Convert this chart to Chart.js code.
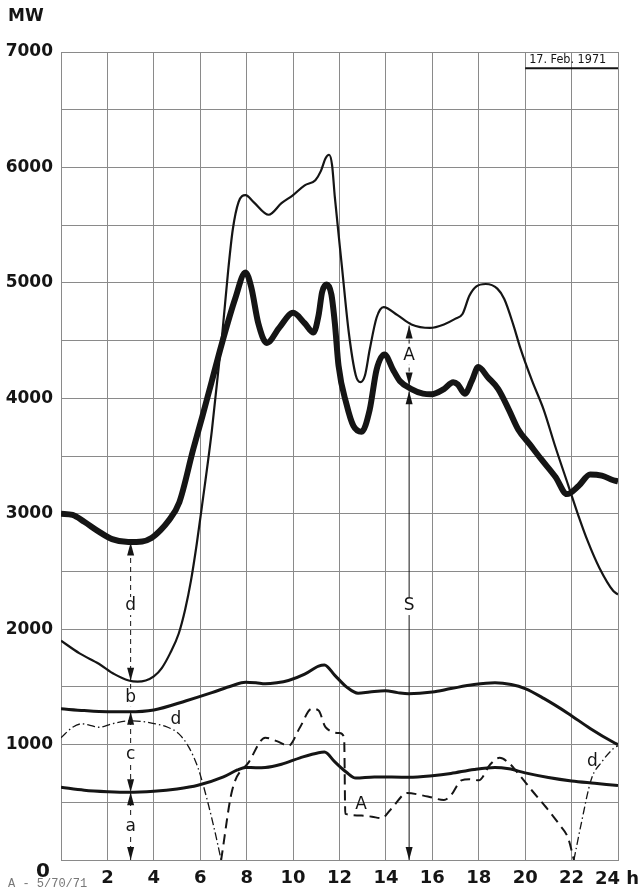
<!DOCTYPE html>
<html>
<head>
<meta charset="utf-8">
<script src="https://cdn.jsdelivr.net/npm/chart.js@4.4.1/dist/chart.umd.min.js"></script>
<style>
  html, body { margin: 0; padding: 0; background: #fff; }
  #wrap { position: relative; width: 640px; height: 894px; }
</style>
</head>
<body>
<div id="wrap"><canvas id="loadChart"></canvas></div>
<script>
// ---- data (hours, MW) ----
const hourTicks = [0, 2, 4, 6, 8, 10, 12, 14, 16, 18, 20, 22, 24];

// S: heavy curve
const curveS = [[0,3000],[0.5,2990],[1,2930],[1.63,2845],[2.2,2780],[2.9,2755],[3.5,2760],[3.9,2790],[4.3,2860],[4.6,2930],[5.1,3100],[5.7,3560],[6.1,3850],[6.5,4150],[6.94,4480],[7.5,4860],[7.95,5090],[8.2,4960],[8.5,4650],[8.87,4480],[9.4,4610],[10.0,4740],[10.5,4650],[10.88,4570],[11.1,4720],[11.25,4920],[11.45,4985],[11.65,4900],[11.8,4650],[11.96,4280],[12.3,3950],[12.6,3760],[12.95,3710],[13.3,3900],[13.6,4250],[13.94,4380],[14.3,4250],[14.6,4150],[15.1,4080],[15.6,4040],[15.96,4035],[16.5,4080],[16.9,4140],[17.1,4120],[17.4,4040],[17.7,4150],[17.98,4270],[18.4,4180],[18.84,4080],[19.3,3900],[19.7,3730],[20.2,3600],[20.7,3470],[21.3,3320],[21.8,3170],[22.3,3240],[22.8,3340],[23.3,3330],[23.8,3290],[24,3280]];

// thin upper curve
const curveThin = [[0,1900],[0.8,1790],[1.63,1700],[2.3,1610],[2.92,1555],[3.3,1545],[3.65,1555],[4.0,1590],[4.35,1665],[4.7,1790],[5.07,1960],[5.35,2170],[5.6,2420],[5.85,2740],[6.07,3060],[6.5,3720],[6.94,4540],[7.2,5100],[7.4,5460],[7.65,5700],[7.95,5760],[8.3,5700],[8.95,5590],[9.5,5690],[10.0,5760],[10.5,5845],[10.96,5890],[11.2,5970],[11.4,6080],[11.55,6110],[11.68,6020],[11.8,5740],[12.1,5150],[12.4,4570],[12.7,4200],[12.9,4140],[13.1,4200],[13.3,4420],[13.6,4700],[13.9,4790],[14.5,4720],[15.1,4640],[15.9,4610],[16.5,4640],[17.0,4690],[17.3,4730],[17.6,4890],[17.9,4970],[18.3,4990],[18.8,4950],[19.1,4860],[19.5,4630],[19.8,4430],[20.3,4150],[20.8,3900],[21.3,3580],[21.85,3250],[22.3,2980],[22.7,2760],[23.2,2530],[23.8,2330],[24,2300]];

// b: medium curve
const curveB = [[0,1310],[1,1295],[2,1285],[2.9,1284],[4,1300],[5.4,1380],[6.5,1450],[7.37,1510],[7.95,1540],[8.4,1535],[8.8,1526],[9.3,1535],[9.8,1555],[10.5,1610],[11.1,1680],[11.35,1690],[11.8,1600],[12.3,1500],[12.8,1445],[13.3,1455],[13.97,1466],[14.5,1450],[14.97,1440],[16,1455],[16.8,1485],[17.8,1520],[18.7,1535],[19.4,1520],[20,1485],[20.8,1400],[21.85,1270],[22.8,1140],[23.8,1020],[24,1000]];

// a: lower medium curve
const curveA = [[0,630],[1,605],[2,592],[2.9,586],[4,595],[5,615],[5.9,647],[7,720],[7.6,780],[7.95,802],[8.4,800],[8.8,802],[9.5,830],[10.3,885],[11.1,930],[11.35,935],[11.8,850],[12.3,760],[12.7,710],[13.5,720],[15,716],[16,730],[16.8,750],[17.8,785],[18.7,802],[19.3,790],[20,755],[21,715],[22,685],[23,665],[24,645]];

// d: dash-dot curve (two pieces)
const curveD = [[0,1060],[0.5,1150],[0.9,1180],[1.3,1165],[1.63,1150],[2.2,1180],[2.9,1205],[3.5,1200],[4.07,1180],[4.6,1150],[5.07,1095],[5.5,980],[5.9,800],[6.3,520],[6.65,230],[6.9,0],[12,null],[22.1,0],[22.4,300],[22.85,700],[23.3,850],[23.8,965],[24,990]];

// A: dashed curve
const curveDashA = [[6.9,0],[7.37,600],[8.1,850],[8.8,1060],[9.3,1030],[9.8,990],[10.3,1150],[10.8,1310],[11.1,1295],[11.4,1150],[12.0,1100],[12.2,1060],[12.25,400],[12.95,385],[13.4,375],[13.8,362],[14.3,460],[14.9,580],[15.8,550],[16.5,520],[16.8,560],[17.25,690],[17.6,700],[18,690],[18.5,830],[18.9,885],[19.3,840],[19.7,750],[20.3,600],[20.9,457],[21.5,300],[21.85,190],[22.1,0]];

// arrow tips on the marker stems: hour, MW, direction
const arrowTips = [
  [3, 0, "down"], [3, 586, "up"], [3, 586, "down"], [3, 1284, "up"],
  [3, 1552, "down"], [3, 2750, "up"],
  [15, 0, "down"], [15, 4060, "up"], [15, 4110, "down"], [15, 4630, "up"]
];
// letters along the stems and next to the curves
const stemLabels = [[3,290,"a"],[3,910,"c"],[3,1405,"b"],[3,2200,"d"],[15,2200,"S"],[15,4370,"A"]];
const curveLabels = [[4.95,1215,"d"],[22.9,850,"d"],[12.93,480,"A"]];
const dateText = "17. Feb. 1971";

const toXY = arr => arr.map(p => ({ x: p[0], y: p[1] }));
const INK = "#151515";

const annotate = {
  id: "annotate",
  afterDatasetsDraw(chart) {
    const ctx = chart.ctx;
    const xs = chart.scales.x, ys = chart.scales.y;
    const X = h => xs.getPixelForValue(h);
    const Y = v => ys.getPixelForValue(v);
    ctx.save();

    // stem at 3 h (dashed)
    ctx.strokeStyle = INK;
    ctx.lineWidth = 1;
    ctx.setLineDash([5, 4]);
    ctx.beginPath();
    ctx.moveTo(X(3), Y(0)); ctx.lineTo(X(3), Y(2750));
    ctx.stroke();
    // stem at 15 h, S part solid, A part dashed
    ctx.setLineDash([]);
    ctx.beginPath();
    ctx.moveTo(X(15), Y(0)); ctx.lineTo(X(15), Y(4060));
    ctx.stroke();
    ctx.setLineDash([4, 3]);
    ctx.beginPath();
    ctx.moveTo(X(15), Y(4110)); ctx.lineTo(X(15), Y(4630));
    ctx.stroke();
    ctx.setLineDash([]);

    // arrow heads
    ctx.fillStyle = INK;
    arrowTips.forEach(a => {
      const x = X(a[0]), y = Y(a[1]);
      const s = a[2] === "up" ? 1 : -1;
      ctx.beginPath();
      ctx.moveTo(x, y);
      ctx.lineTo(x - 3.5, y + s * 13);
      ctx.lineTo(x + 3.5, y + s * 13);
      ctx.closePath();
      ctx.fill();
    });

    ctx.font = "17px 'DejaVu Sans'";
    ctx.textAlign = "center";
    ctx.textBaseline = "middle";
    stemLabels.forEach(l => {
      const x = X(l[0]), y = Y(l[1]);
      ctx.fillStyle = "#fff";
      ctx.fillRect(x - 7, y - 9, 14, 18);
      ctx.fillStyle = INK;
      ctx.fillText(l[2], x, y);
    });
    curveLabels.forEach(l => {
      ctx.fillText(l[2], X(l[0]), Y(l[1]));
    });

    // date box in the top right cell
    ctx.lineWidth = 2;
    ctx.beginPath();
    ctx.moveTo(X(20), Y(6860)); ctx.lineTo(X(24), Y(6860));
    ctx.stroke();
    ctx.font = "12.5px 'DejaVu Sans Condensed'";
    ctx.textAlign = "left";
    ctx.fillText(dateText, X(20) + 4, Y(6930));

    // unit, zero, last hour label and drawing number
    ctx.font = "bold 17px 'DejaVu Sans'";
    ctx.fillText("MW", 8, 17);
    ctx.font = "bold 20px 'DejaVu Sans'";
    ctx.textAlign = "center";
    ctx.fillText("0", 43, Y(0) + 12);
    ctx.font = "bold 18px 'DejaVu Sans'";
    ctx.fillText("24 h", X(24) - 1, Y(0) + 19);
    ctx.font = "12px 'Liberation Mono'";
    ctx.fillStyle = "#777";
    ctx.textAlign = "left";
    ctx.fillText("A - 5/70/71", 8, 884);
    ctx.restore();
  }
};

const lineSet = (data, width, dash) => ({
  data: toXY(data),
  borderColor: INK,
  borderWidth: width,
  borderDash: dash || [],
  pointRadius: 0,
  fill: false,
  cubicInterpolationMode: "monotone",
  spanGaps: false
});

new Chart(document.getElementById("loadChart"), {
  type: "line",
  data: {
    datasets: [
      lineSet(curveD, 1.3, [8, 3, 1.5, 3]),
      lineSet(curveDashA, 2, [10, 6]),
      lineSet(curveA, 3),
      lineSet(curveB, 3),
      lineSet(curveThin, 2.2),
      lineSet(curveS, 6)
    ]
  },
  options: {
    responsive: true,
    maintainAspectRatio: false,
    animation: false,
    layout: { padding: { top: 52, right: 22, left: 0, bottom: 0 } },
    plugins: { legend: { display: false }, tooltip: { enabled: false } },
    scales: {
      x: {
        type: "linear",
        min: 0,
        max: 24,
        afterBuildTicks: s => { s.ticks = hourTicks.map(v => ({ value: v })); },
        afterFit: s => { s.height = 34; },
        ticks: {
          autoSkip: false,
          maxRotation: 0,
          padding: 8,
          color: INK,
          font: { family: "DejaVu Sans", size: 18, weight: "bold" },
          callback: v => (v === 0 || v === 24 ? "" : v)
        },
        grid: { color: "#8a8a8a", lineWidth: 1, drawTicks: false },
        border: { color: "#8a8a8a" }
      },
      y: {
        min: 0,
        max: 7000,
        afterFit: s => { s.width = 61; },
        ticks: {
          stepSize: 500,
          padding: 8,
          color: INK,
          font: { family: "DejaVu Sans", size: 17, weight: "bold" },
          callback: v => (v > 0 && v % 1000 === 0 ? v : "")
        },
        grid: { color: "#8a8a8a", lineWidth: 1, drawTicks: false },
        border: { color: "#8a8a8a" }
      }
    }
  },
  plugins: [annotate]
});
</script>
</body>
</html>
